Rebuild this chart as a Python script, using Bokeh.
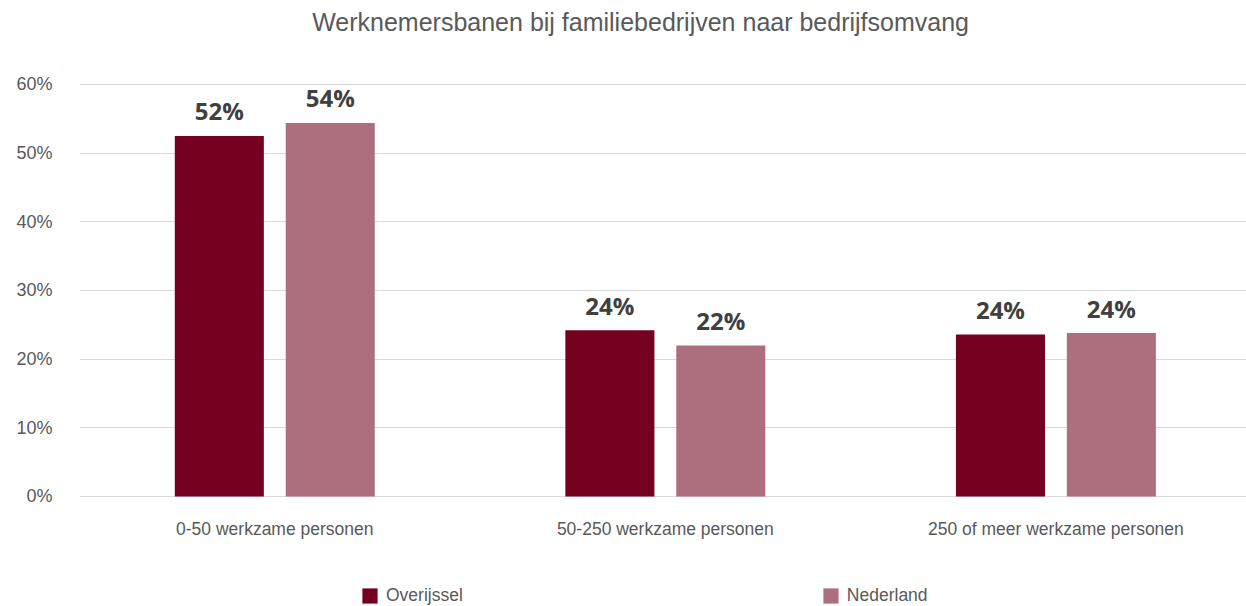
from bokeh.plotting import figure
from bokeh.models import (ColumnDataSource, Range1d, FixedTicker, PrintfTickFormatter,
                          Legend, LegendItem, Label)
from bokeh.core.properties import value
from bokeh.embed import file_html
from bokeh.resources import INLINE

# ---- data ----
categories = ["0-50 werkzame personen", "50-250 werkzame personen", "250 of meer werkzame personen"]
series = ["Overijssel", "Nederland"]
overijssel = [52.5, 24.2, 23.6]
nederland = [54.4, 22.0, 23.8]
overijssel_labels = ["52%", "24%", "24%"]
nederland_labels = ["54%", "22%", "24%"]
y_ticks = [0, 10, 20, 30, 40, 50, 60]
title_text = "Werknemersbanen bij familiebedrijven naar bedrijfsomvang"

# ---- styles ----
col_o = "#75001F"
col_n = "#AD6F7D"
grey = "#595959"
FONT = "Liberation Sans"

centers = [i + 0.5 for i in range(len(categories))]
off = 0.142
bw = 0.228

src_o = ColumnDataSource(dict(x=[c - off for c in centers], top=overijssel, lab=overijssel_labels))
src_n = ColumnDataSource(dict(x=[c + off for c in centers], top=nederland, lab=nederland_labels))

# frame covers the full height; the y scale puts 0% at y=496 and 60% at y=84
p = figure(width=1246, height=606, output_backend="svg", toolbar_location=None,
           x_range=Range1d(0, 2.988), y_range=Range1d(-16.02, 72.233),
           min_border_left=79, min_border_right=0, min_border_top=0, min_border_bottom=0)
p.outline_line_color = None
p.background_fill_color = "white"
p.border_fill_color = "white"

r_o = p.vbar(x="x", top="top", width=bw, source=src_o, fill_color=col_o, line_color=None)
r_n = p.vbar(x="x", top="top", width=bw, source=src_n, fill_color=col_n, line_color=None)

for src in (src_o, src_n):
    p.text(x="x", y="top", text="lab", source=src, text_align="center",
           text_baseline="alphabetic", y_offset=-25,
           text_font=value("Open Sans"), text_font_style="bold",
           text_font_size="24px", text_color="#404040")

# title
p.add_layout(Label(x=1.4366, y=69.1, text=title_text, text_align="center",
                   text_baseline="alphabetic", text_font=FONT, text_font_size="25px",
                   text_color=grey))

# axes
p.xaxis.fixed_location = 0
p.xaxis.ticker = FixedTicker(ticks=centers)
p.xaxis.major_label_overrides = {c: lab for c, lab in zip(centers, categories)}
p.xaxis.axis_line_color = None
p.xaxis.major_tick_line_color = None
p.xaxis.minor_tick_line_color = None
p.xaxis.major_tick_out = 0
p.xaxis.minor_tick_out = 0
p.xaxis.major_label_text_font = FONT
p.xaxis.major_label_text_font_size = "17.5px"
p.xaxis.major_label_text_color = grey
p.xaxis.major_label_standoff = 23

p.yaxis.ticker = FixedTicker(ticks=y_ticks)
p.yaxis.formatter = PrintfTickFormatter(format="%d%%")
p.yaxis.axis_line_color = None
p.yaxis.major_tick_line_color = None
p.yaxis.minor_tick_line_color = None
p.yaxis.major_tick_out = 0
p.yaxis.minor_tick_out = 0
p.yaxis.major_label_text_font = FONT
p.yaxis.major_label_text_font_size = "18px"
p.yaxis.major_label_text_color = grey
p.yaxis.major_label_standoff = 27

p.xgrid.grid_line_color = None
p.ygrid.grid_line_color = "#D9D9D9"
p.ygrid.grid_line_width = 1

# legend
lg = Legend(items=[LegendItem(label=series[0], renderers=[r_o]),
                   LegendItem(label=series[1], renderers=[r_n])],
            location=(281, 0), orientation="horizontal", padding=0, margin=0, spacing=358,
            glyph_width=19, glyph_height=19, label_height=19, label_standoff=7,
            label_text_font=FONT, label_text_font_size="17.5px", label_text_color=grey,
            border_line_color=None, background_fill_alpha=0)
p.add_layout(lg)

open("out.html", "w").write(file_html(p, INLINE))
